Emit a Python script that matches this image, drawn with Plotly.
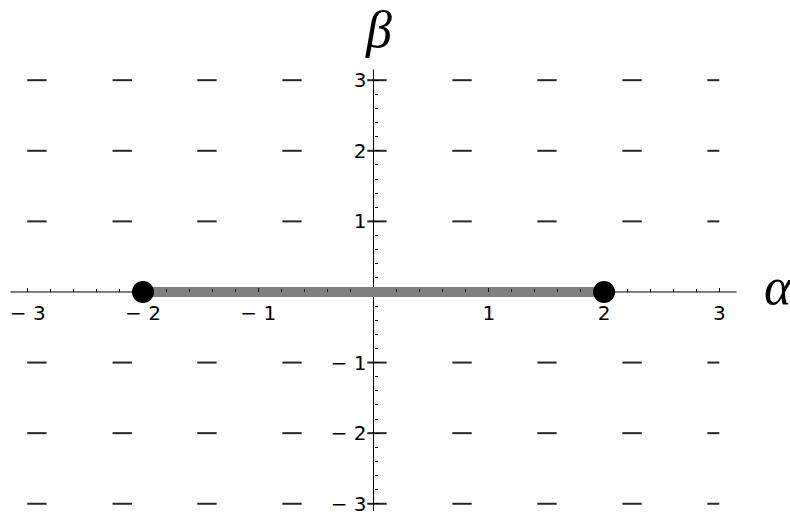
import numpy as np
import plotly.graph_objects as go

# Direction-field sample points (horizontal segments)
field_cols = [-2.92, -2.18, -1.445, -0.707, 0.03, 0.768, 1.505, 2.243, 2.98]
field_rows = [-3, -2, -1, 1, 2, 3]
seg_half = 0.084
field_clip = 3.0

# Interval on the alpha axis and its endpoints
interval = [-2, 2]
endpoints_x = [-2, 2]
endpoints_y = [0, 0]

# Axis ticks and labels
x_major = [-3, -2, -1, 1, 2, 3]
x_labels = ["\u2212 3", "\u2212 2", "\u2212 1", "1", "2", "3"]
y_major = [-3, -2, -1, 1, 2, 3]
y_labels = ["\u2212 3", "\u2212 2", "\u2212 1", "1", "2", "3"]
minor_vals = [round(v, 1) for v in np.arange(-3.0, 3.01, 0.2) if abs(v - round(v)) > 1e-6]
axis_extent = 3.15

XR = [-3.2403, 3.6132]
YR = [-3.1026, 4.136]

fig = go.Figure()

# direction field
sx, sy = [], []
for r in field_rows:
    for c in field_cols:
        a, b = c - seg_half, min(c + seg_half, field_clip)
        sx += [a, b, None]
        sy += [r, r, None]
fig.add_trace(go.Scatter(x=sx, y=sy, mode="lines",
                         line=dict(color="#262626", width=2), hoverinfo="skip"))

# axis lines
fig.add_trace(go.Scatter(x=[-axis_extent, axis_extent], y=[0, 0], mode="lines",
                         line=dict(color="black", width=1), hoverinfo="skip"))
fig.add_trace(go.Scatter(x=[0, 0], y=[-axis_extent, axis_extent], mode="lines",
                         line=dict(color="black", width=1), hoverinfo="skip"))

# interval and endpoints
fig.add_trace(go.Scatter(x=interval, y=[0, 0], mode="lines",
                         line=dict(color="#808080", width=10), hoverinfo="skip"))
fig.add_trace(go.Scatter(x=endpoints_x, y=endpoints_y, mode="markers",
                         marker=dict(color="black", size=22), hoverinfo="skip"))

tick_font = dict(family="DejaVu Sans", size=20, color="black")
fig.update_layout(
    width=790, height=516,
    margin=dict(l=0, r=0, t=0, b=0),
    paper_bgcolor="white", plot_bgcolor="white",
    showlegend=False,
    xaxis=dict(range=XR, anchor="free", position=(0 - YR[0]) / (YR[1] - YR[0]),
               showgrid=False, zeroline=False, showline=False,
               tickmode="array", tickvals=x_major, ticktext=x_labels,
               ticks="inside", ticklen=4, tickwidth=1, tickcolor="black",
               tickfont=tick_font, ticklabelstandoff=7, ticklabeloverflow="allow",
               minor=dict(tickmode="array", tickvals=minor_vals, ticks="inside",
                          ticklen=3, tickwidth=1, tickcolor="black", showgrid=False)),
    yaxis=dict(range=YR, anchor="free", position=(0 - XR[0]) / (XR[1] - XR[0]),
               showgrid=False, zeroline=False, showline=False,
               tickmode="array", tickvals=y_major, ticktext=y_labels,
               ticks="inside", ticklen=4, tickwidth=1, tickcolor="black",
               tickfont=tick_font, ticklabelstandoff=7, ticklabeloverflow="allow",
               minor=dict(tickmode="array", tickvals=minor_vals, ticks="inside",
                          ticklen=3, tickwidth=1, tickcolor="black", showgrid=False)),
)

greek = dict(family="Liberation Serif", size=52, color="black")
fig.add_annotation(x=0.04, y=3.72, xref="x", yref="y", text="<i>\u03b2</i>",
                   showarrow=False, font=greek, xanchor="center", yanchor="middle")
fig.add_annotation(x=3.37, y=0.08, xref="x", yref="y", text="<i>\u03b1</i>",
                   showarrow=False, font=greek, xanchor="left", yanchor="middle")

fig.write_html("out.html")
